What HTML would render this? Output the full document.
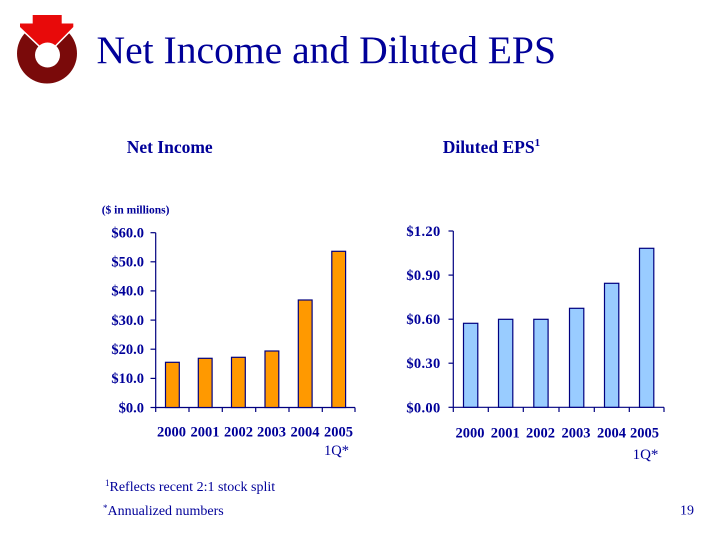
<!DOCTYPE html>
<html>
<head>
<meta charset="utf-8">
<style>
html,body{margin:0;padding:0;background:#fff;}
svg{display:block;}
text{font-family:"Liberation Serif","Times New Roman",serif;fill:#000099;}
.b{font-weight:bold;}
</style>
</head>
<body>
<svg width="720" height="540" viewBox="0 0 720 540" xmlns="http://www.w3.org/2000/svg">
  <rect width="720" height="540" fill="#fff"/>

  <!-- Logo -->
  <circle cx="47" cy="53.5" r="30" fill="#7a0a0a"/>
  <polygon points="32.7,15 61.7,15 61.7,23.5 73.3,23.5 73.3,27 47.5,53 20,27 20,23.5 32.7,23.5" fill="#fff" stroke="#fff" stroke-width="3" stroke-linejoin="miter"/>
  <polygon points="32.7,15 61.7,15 61.7,23.5 73.3,23.5 73.3,27 47.5,53 20,27 20,23.5 32.7,23.5" fill="#e80a0a"/>
  <circle cx="47.5" cy="55" r="12.5" fill="#fff"/>

  <!-- Title -->
  <text x="96.5" y="63" font-size="39.6">Net Income and Diluted EPS</text>

  <!-- Subtitles -->
  <text class="b" x="126.7" y="153" font-size="17.5">Net Income</text>
  <text class="b" x="442.7" y="153" font-size="17.5">Diluted EPS<tspan font-size="11" dy="-7">1</tspan></text>
  <text class="b" x="101.7" y="213.5" font-size="11.5">($ in millions)</text>

  <!-- LEFT CHART -->
  <g stroke="#000080" stroke-width="1.2" fill="none">
    <line x1="155.7" y1="232.7" x2="155.7" y2="407.5"/>
    <line x1="155.7" y1="407.5" x2="355" y2="407.5"/>
    <line x1="150.5" y1="232.7" x2="155.7" y2="232.7"/>
    <line x1="150.5" y1="261.8" x2="155.7" y2="261.8"/>
    <line x1="150.5" y1="290.9" x2="155.7" y2="290.9"/>
    <line x1="150.5" y1="320.1" x2="155.7" y2="320.1"/>
    <line x1="150.5" y1="349.2" x2="155.7" y2="349.2"/>
    <line x1="150.5" y1="378.4" x2="155.7" y2="378.4"/>
    <line x1="150.5" y1="407.5" x2="155.7" y2="407.5"/>
    <line x1="155.7" y1="407.5" x2="155.7" y2="412"/>
    <line x1="189" y1="407.5" x2="189" y2="412"/>
    <line x1="222.3" y1="407.5" x2="222.3" y2="412"/>
    <line x1="255.7" y1="407.5" x2="255.7" y2="412"/>
    <line x1="289" y1="407.5" x2="289" y2="412"/>
    <line x1="322.3" y1="407.5" x2="322.3" y2="412"/>
    <line x1="355" y1="407.5" x2="355" y2="412"/>
  </g>
  <g fill="#ff9900" stroke="#000080" stroke-width="1.2">
    <rect x="165.5" y="362.3" width="13.8" height="45.2"/>
    <rect x="198.3" y="358.3" width="13.8" height="49.2"/>
    <rect x="231.5" y="357.3" width="13.8" height="50.2"/>
    <rect x="265" y="351" width="13.8" height="56.5"/>
    <rect x="298.3" y="300" width="13.8" height="107.5"/>
    <rect x="331.8" y="251.3" width="13.8" height="156.2"/>
  </g>
  <g font-size="14.5" text-anchor="end">
    <text class="b" x="144" y="237.5">$60.0</text>
    <text class="b" x="144" y="266.6">$50.0</text>
    <text class="b" x="144" y="295.7">$40.0</text>
    <text class="b" x="144" y="324.9">$30.0</text>
    <text class="b" x="144" y="354">$20.0</text>
    <text class="b" x="144" y="383.2">$10.0</text>
    <text class="b" x="144" y="412.3">$0.0</text>
  </g>
  <g font-size="14.5" text-anchor="middle">
    <text class="b" x="171.5" y="436.7">2000</text>
    <text class="b" x="205" y="436.7">2001</text>
    <text class="b" x="238.5" y="436.7">2002</text>
    <text class="b" x="271.5" y="436.7">2003</text>
    <text class="b" x="305" y="436.7">2004</text>
    <text class="b" x="338.5" y="436.7">2005</text>
    <text x="336.5" y="455" font-size="14.5">1Q*</text>
  </g>

  <!-- RIGHT CHART -->
  <g stroke="#000080" stroke-width="1.2" fill="none">
    <line x1="453.3" y1="231" x2="453.3" y2="407.3"/>
    <line x1="453.3" y1="407.3" x2="664" y2="407.3"/>
    <line x1="448.5" y1="231" x2="453.3" y2="231"/>
    <line x1="448.5" y1="275.1" x2="453.3" y2="275.1"/>
    <line x1="448.5" y1="319.2" x2="453.3" y2="319.2"/>
    <line x1="448.5" y1="363.2" x2="453.3" y2="363.2"/>
    <line x1="448.5" y1="407.3" x2="453.3" y2="407.3"/>
    <line x1="453.3" y1="407.3" x2="453.3" y2="412"/>
    <line x1="488.3" y1="407.3" x2="488.3" y2="412"/>
    <line x1="523.3" y1="407.3" x2="523.3" y2="412"/>
    <line x1="559" y1="407.3" x2="559" y2="412"/>
    <line x1="594.3" y1="407.3" x2="594.3" y2="412"/>
    <line x1="629.3" y1="407.3" x2="629.3" y2="412"/>
    <line x1="664" y1="407.3" x2="664" y2="412"/>
  </g>
  <g fill="#99ccff" stroke="#000080" stroke-width="1.2">
    <rect x="463.5" y="323.3" width="14.3" height="84"/>
    <rect x="498.5" y="319.3" width="14.3" height="88"/>
    <rect x="533.8" y="319.3" width="14.3" height="88"/>
    <rect x="569.5" y="308.3" width="14.3" height="99"/>
    <rect x="604.5" y="283.3" width="14.3" height="124"/>
    <rect x="639.5" y="248.3" width="14.3" height="159"/>
  </g>
  <g font-size="14.5" text-anchor="end">
    <text class="b" x="440.5" y="236" letter-spacing="0.3">$1.20</text>
    <text class="b" x="440.5" y="280.1" letter-spacing="0.3">$0.90</text>
    <text class="b" x="440.5" y="324.2" letter-spacing="0.3">$0.60</text>
    <text class="b" x="440.5" y="368.2" letter-spacing="0.3">$0.30</text>
    <text class="b" x="440.5" y="412.3" letter-spacing="0.3">$0.00</text>
  </g>
  <g font-size="14.5" text-anchor="middle">
    <text class="b" x="470" y="437.7">2000</text>
    <text class="b" x="505.3" y="437.7">2001</text>
    <text class="b" x="540.5" y="437.7">2002</text>
    <text class="b" x="576" y="437.7">2003</text>
    <text class="b" x="611.5" y="437.7">2004</text>
    <text class="b" x="644.5" y="437.7">2005</text>
    <text x="645.5" y="459" font-size="15">1Q*</text>
  </g>

  <!-- Footnotes -->
  <text x="105" y="491" font-size="14"><tspan font-size="9" dy="-5">1</tspan><tspan dy="5">Reflects recent 2:1 stock split</tspan></text>
  <text x="103" y="515" font-size="14"><tspan font-size="9" dy="-4">*</tspan><tspan dy="4">Annualized numbers</tspan></text>

  <!-- Page number -->
  <text x="694" y="514.3" font-size="14" text-anchor="end">19</text>
</svg>
</body>
</html>
